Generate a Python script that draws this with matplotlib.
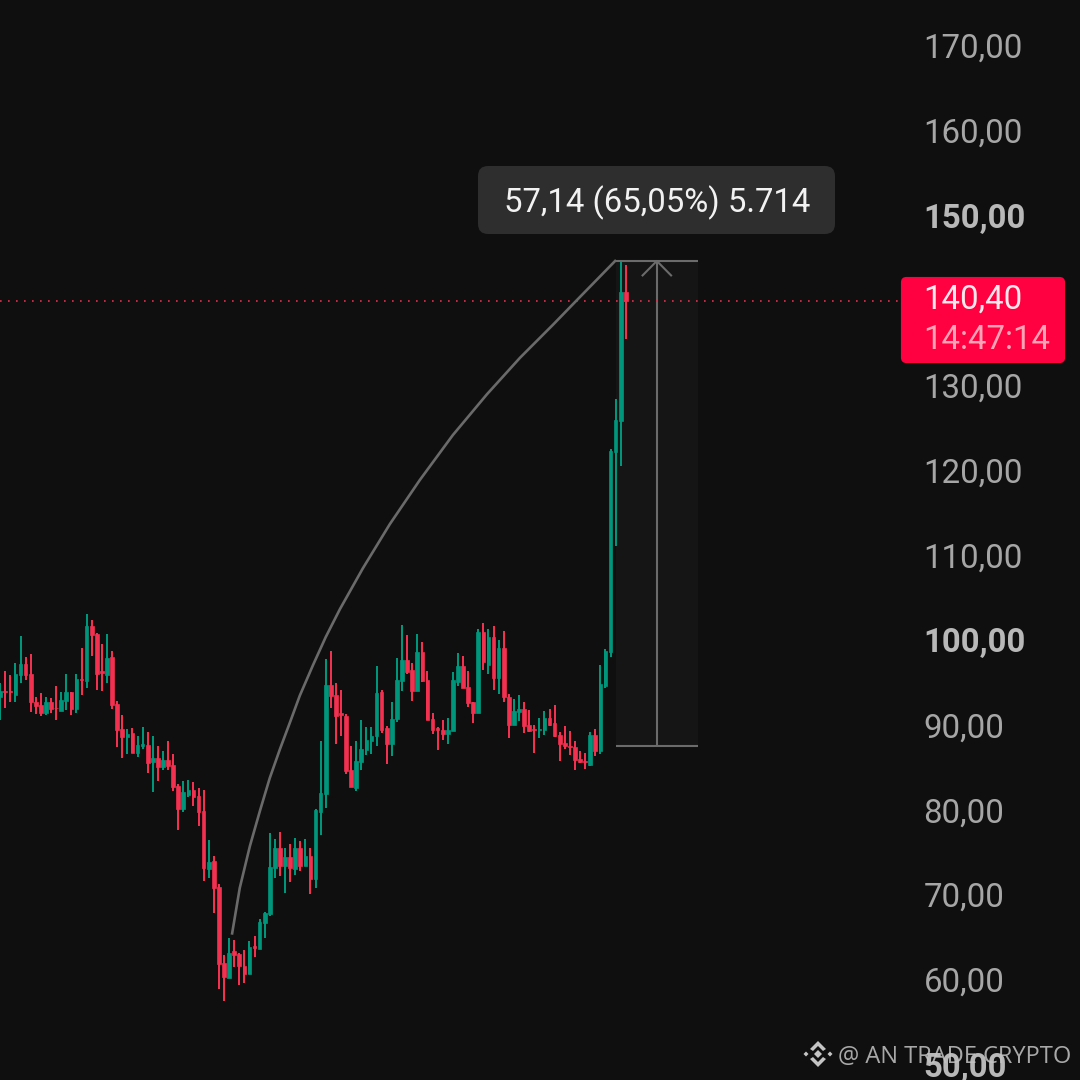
import matplotlib
matplotlib.use("Agg")
import matplotlib.pyplot as plt
from matplotlib.patches import FancyBboxPatch, Rectangle, Polygon

# candles
opens = [93.8,94.5,94.5,94.0,96.3,97.6,96.5,93.2,92.8,91.8,
         93.2,92.5,92.1,93.3,94.3,92.3,95.9,95.6,102.1,101.2,
         96.8,96.3,98.4,92.9,90.0,89.0,89.5,87.2,88.0,88.1,
         86.1,86.6,85.5,86.3,85.7,83.3,80.6,82.2,82.8,82.1,
         80.3,73.5,74.4,71.4,62.4,60.7,63.8,63.5,62.1,61.1,
         64.4,64.1,67.1,68.2,73.6,75.9,73.8,74.9,73.5,75.9,
         73.8,75.0,72.3,80.2,82.3,95.2,94.0,91.8,91.5,85.1,
         83.0,86.1,87.5,88.6,89.1,94.3,90.1,88.2,91.2,95.6,
         98.1,96.9,94.4,99.0,95.7,91.2,90.1,89.9,89.4,89.7,
         95.5,97.4,94.9,93.1,91.9,101.4,97.5,100.8,96.0,99.5,
         93.7,90.4,92.0,92.3,90.4,90.0,89.8,89.8,91.3,90.7,
         89.3,88.3,88.0,87.9,86.4,86.2,85.7,89.3,87.4,95.0,
         99.1,122.6,126.3,141.5]
highs = [95.4,96.8,96.3,97.7,100.9,98.5,98.8,93.8,94.2,93.8,
         93.6,95.0,94.3,96.5,94.3,96.5,99.5,103.5,102.8,101.3,
         100.0,101.2,99.2,93.3,91.6,90.0,90.1,89.2,90.2,89.6,
         89.2,88.0,87.4,88.6,87.0,83.5,83.9,84.0,83.7,83.0,
         82.8,76.9,75.0,71.7,63.3,65.4,65.1,63.6,64.0,65.0,
         65.6,67.6,68.4,77.7,77.0,77.9,75.9,76.4,77.1,76.8,
         77.0,76.0,80.6,88.6,98.2,99.2,95.4,94.6,91.7,88.0,
         88.6,91.0,90.2,90.2,97.4,94.6,90.3,93.2,98.3,102.2,
         101.0,97.8,101.2,100.2,96.8,91.8,90.2,91.0,91.3,96.7,
         98.9,98.6,96.8,93.2,101.8,102.4,101.8,102.1,100.5,101.5,
         94.1,93.5,94.0,93.1,92.2,90.4,91.3,92.1,92.3,92.8,
         89.6,90.3,89.7,88.6,87.4,87.2,89.6,90.0,97.5,99.4,
         123.0,128.9,145.0,144.6]
lows = [91.0,92.5,93.2,93.1,95.4,95.7,92.0,91.7,91.5,91.6,
        91.9,91.0,92.1,92.2,91.6,91.9,94.0,94.8,98.6,94.6,
        94.5,95.4,92.3,87.9,86.6,87.0,87.1,86.7,87.6,84.8,
        82.6,83.9,85.1,85.1,82.7,78.1,80.2,82.0,80.9,78.5,
        72.1,72.4,68.3,59.3,57.9,60.7,61.9,59.8,60.1,61.1,
        63.1,64.1,65.3,67.9,72.4,72.6,70.7,71.9,72.8,73.3,
        73.8,70.5,71.2,77.5,80.7,92.5,88.2,89.1,84.7,83.1,
        82.7,85.1,86.9,87.0,88.0,89.5,85.9,86.8,90.8,94.4,
        96.5,93.3,94.4,95.5,91.0,89.4,87.5,88.7,88.2,89.7,
        95.0,94.8,92.6,90.7,91.9,96.9,96.5,94.6,94.1,93.1,
        88.9,90.4,90.9,89.5,89.6,87.1,88.9,89.3,90.3,89.0,
        86.2,87.6,86.9,85.1,86.0,85.3,85.6,86.8,87.0,94.8,
        98.5,111.5,120.9,135.9]
closes = [94.4,94.3,94.3,96.5,97.6,96.3,93.2,92.7,91.8,93.2,
          92.3,92.4,93.4,94.3,92.3,95.9,95.8,102.1,101.0,96.5,
          96.6,98.3,92.8,89.9,89.0,89.4,87.2,88.1,88.2,86.0,
          86.6,85.5,86.3,85.6,83.2,80.6,82.5,82.8,82.0,80.2,
          73.6,74.3,71.3,62.3,60.8,63.6,63.4,62.0,61.1,64.3,
          64.2,67.2,68.3,73.7,75.9,73.8,74.9,73.6,75.9,73.8,
          75.0,72.3,80.4,82.4,95.2,93.9,91.5,91.6,85.0,83.1,
          86.2,87.6,88.7,89.2,94.2,89.9,88.2,91.2,95.8,98.1,
          96.7,94.4,99.0,95.6,91.0,89.9,89.9,89.4,89.9,95.7,
          97.4,94.8,93.0,91.9,101.4,97.9,100.8,96.0,99.5,93.7,
          90.4,92.1,92.3,90.3,89.7,89.8,90.0,91.3,90.5,89.1,
          88.2,88.0,87.9,86.3,86.1,86.1,89.3,87.4,95.3,99.2,
          122.7,126.4,141.5,140.4]

# curved line of the drawing tool
arc_x = [45.6,47.1,49.1,51.1,53.0,55.0,57.0,58.9,61.5,64.0,66.8,71.3,76.6,82.5,89.0,95.7,102.2,108.7,113.4,120.9]
arc_y = [65.9,71.25,76.2,80.4,84.2,87.6,90.8,93.9,97.5,100.8,104.1,108.9,114.1,119.3,124.6,129.4,133.7,137.6,140.5,145.1]

# measure tool
range_low = 87.96
range_high = 145.10
range_left = 121.05
range_right = 137.2
range_mid = 129.1

last_price = 140.40
price_ticks = [170,160,150,130,120,110,100,90,80,70,60,50]
price_labels = ["170,00","160,00","150,00","130,00","120,00","110,00","100,00","90,00","80,00","70,00","60,00","50,00"]
bold_ticks = [150,100,50]

bg = "#0f0f0f"
green = "#00967c"
red = "#f2304f"
grey = "#6b6b6b"

plt.rcParams["font.family"] = ["Roboto", "DejaVu Sans"]

fig = plt.figure(figsize=(10.8,10.8), dpi=100, facecolor=bg)
ax = fig.add_axes([0,0,1,1], facecolor=bg)
ax.set_xlim(-0.04,212.3)
ax.set_ylim(48.63,175.84)
ax.axis("off")

def pos(x, y):
    # picture pixels to axes fraction
    return x/1080, 1-y/1080

# measure tool
ax.add_patch(Rectangle((range_left,range_low), range_right-range_left, range_high-range_low, color="#151515", lw=0, zorder=1))
ax.hlines([range_low,range_high], range_left, range_right, color=grey, lw=1.5, zorder=2)
ax.vlines(range_mid, range_low, range_high, color=grey, lw=1.5, zorder=2)
ax.plot([range_mid-2.8,range_mid,range_mid+2.8], [range_high-1.7,range_high,range_high-1.7], color=grey, lw=1.5, zorder=2)

# last price line
ax.plot([0,177], [last_price,last_price], color="#e0304c", lw=1.2, linestyle=(0,(1,3.8)), dash_capstyle="butt", zorder=2)

# candles
x = list(range(len(opens)))
colors = [green if c >= o else red for o,c in zip(opens,closes)]
bottoms = [min(o,c) for o,c in zip(opens,closes)]
heights = [abs(c-o) for o,c in zip(opens,closes)]
ax.vlines(x, lows, highs, colors=colors, lw=1.45, zorder=3)
ax.bar(x, heights, bottom=bottoms, width=0.72, color=colors, edgecolor=colors, linewidth=0.5, zorder=4)

ax.plot(arc_x, arc_y, color="#6a6a6a", lw=1.9, zorder=5)

# axis labels
for t,l in zip(price_ticks,price_labels):
    tx,_ = pos(923.5,0)
    _,ty = pos(0,979.5-(t-60.41)*8.49)
    is_bold = t in bold_ticks
    ax.text(tx, ty, l, transform=ax.transAxes, color="#b8b8b8" if is_bold else "#a6a6a6",
            fontsize=23.8, fontweight="bold" if is_bold else "normal", va="center", ha="left", zorder=6)

# percent box
bx,by = pos(478,234)
ax.add_patch(FancyBboxPatch((bx,by), 357/1080, 68/1080, boxstyle="round,pad=0,rounding_size=0.0093", transform=ax.transAxes,
                            fc="#2e2e2e", ec="none", zorder=6))
tx,ty = pos(657,203)
ax.text(tx, ty, "57,14 (65,05%) 5.714", transform=ax.transAxes, color="#f2f2f2", fontsize=23.7, ha="center", va="center", zorder=7)

# price tag
bx,by = pos(902,362)
ax.add_patch(FancyBboxPatch((bx,by), 162/1080, 84/1080, boxstyle="round,pad=0,rounding_size=0.004", transform=ax.transAxes,
                            fc="#ff0040", ec="#ff0040", lw=1.5, zorder=6))
tx,ty = pos(923.5,300)
ax.text(tx, ty, "140,40", transform=ax.transAxes, color="#ffe8ec", fontsize=23.8, va="center", zorder=7)
tx,ty = pos(923.5,340)
ax.text(tx, ty, "14:47:14", transform=ax.transAxes, color="#ffa3b5", fontsize=23.8, va="center", zorder=7)

# watermark
wm = "#c4c4c4"
tx,ty = pos(838,1057)
ax.text(tx, ty, "@ AN TRADE CRYPTO", transform=ax.transAxes, color=wm, alpha=0.85, family=["Open Sans","DejaVu Sans"],
        fontsize=17, va="center", zorder=8)
cx,cy = 818,1054
ax.add_patch(Polygon([pos(cx-4,cy),pos(cx,cy-4),pos(cx+4,cy),pos(cx,cy+4)], closed=True, transform=ax.transAxes, fc=wm, ec="none", zorder=8))
for dx in [-12,12]:
    ax.add_patch(Polygon([pos(cx+dx-2.5,cy),pos(cx+dx,cy-2.5),pos(cx+dx+2.5,cy),pos(cx+dx,cy+2.5)], closed=True, transform=ax.transAxes, fc=wm, ec="none", zorder=8))
for s in [-1,1]:
    ax.add_patch(Polygon([pos(cx-8,cy+s*5),pos(cx,cy+s*13),pos(cx+8,cy+s*5),pos(cx+5,cy+s*3),pos(cx,cy+s*8),pos(cx-5,cy+s*3)], closed=True,
                         transform=ax.transAxes, fc=wm, ec="none", zorder=8))

fig.savefig("out.png", dpi=100, facecolor=bg)
